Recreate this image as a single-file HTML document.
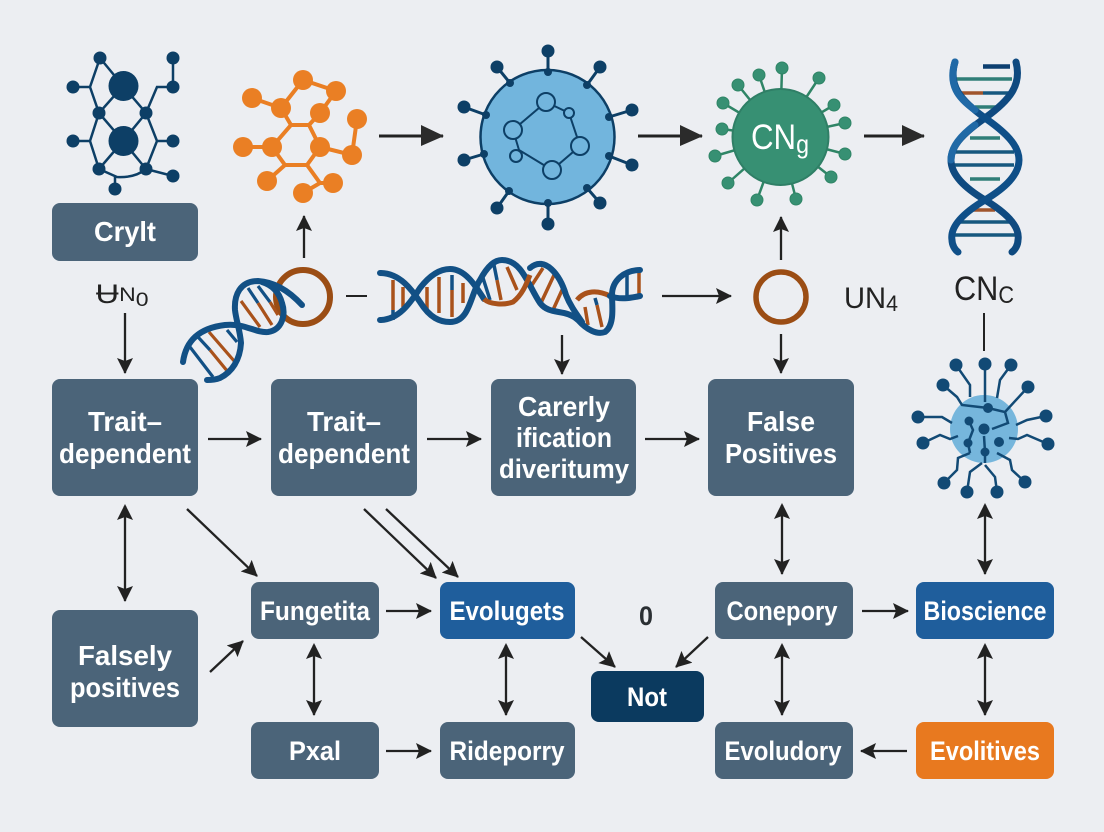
<!DOCTYPE html>
<html><head><meta charset="utf-8"><style>
html,body{margin:0;padding:0;background:#eceef2}
svg{display:block}
text{font-family:"Liberation Sans","DejaVu Sans",sans-serif}
.w{fill:#fff;font-weight:700;font-size:28px;text-anchor:middle}
.w2{font-size:26.5px}
.k{fill:#222;font-size:27px;text-anchor:middle}
.b{fill:#4b6479}
.a{stroke:#222;stroke-width:2.300;fill:none;marker-end:url(#m)}
.d{stroke:#222;stroke-width:2.300;fill:none;marker-end:url(#m);marker-start:url(#s)}
.a2{stroke:#222;stroke-width:3;fill:none;marker-end:url(#l)}
.n1{stroke:#0d3f66;stroke-width:2.500;fill:none}
.o{stroke:#ea7f24;stroke-width:4;fill:none}
.g{stroke:#2f8566;stroke-width:2.500;fill:none}
.h{stroke:#125085;stroke-width:6;fill:none;stroke-linecap:round}
.r{stroke:#a9521b;stroke-width:3;fill:none}
.t{stroke:#125085;stroke-width:3;fill:none}
</style></head><body>
<svg width="1104" height="832" viewBox="0 0 1104 832" xmlns="http://www.w3.org/2000/svg">
<defs>
<marker id="m" markerUnits="userSpaceOnUse" markerWidth="17" markerHeight="16" refX="15" refY="8" orient="auto"><path d="M0 0L16 8L0 16L3 8Z" fill="#222"/></marker>
<marker id="s" markerUnits="userSpaceOnUse" markerWidth="17" markerHeight="16" refX="2" refY="8" orient="auto"><path d="M16 0L0 8L16 16L13 8Z" fill="#222"/></marker>
<marker id="l" markerUnits="userSpaceOnUse" markerWidth="24" markerHeight="22" refX="22" refY="11" orient="auto"><path d="M0 0L23 11L0 21Z" fill="#2b2b2b"/></marker>
</defs>
<rect width="1104" height="832" fill="#eceef2"/>

<!-- blue network -->
<g class="n1">
<path d="M100 58L90 87L99 113L90 141L99 169L117 177Q135 178 146 169L173 176"/>
<path d="M100 58L123 86L99 113L123 141L99 169M123 86L146 113L123 141L146 169M146 113L157 87H173V58M146 113L157 141L146 169M73 87H90M73 141H90M157 141H173M115 177V189"/>
</g>
<g fill="#0d3f66">
<circle cx="123.500" cy="86" r="15"/><circle cx="123.500" cy="141" r="15"/>
<circle cx="100" cy="58" r="6.500"/><circle cx="173" cy="58" r="6.500"/><circle cx="73" cy="87" r="6.500"/><circle cx="173" cy="87" r="6.500"/><circle cx="99" cy="113" r="6.500"/><circle cx="146" cy="113" r="6.500"/><circle cx="73" cy="141" r="6.500"/><circle cx="173" cy="141" r="6.500"/><circle cx="99" cy="169" r="6.500"/><circle cx="146" cy="169" r="6.500"/><circle cx="173" cy="176" r="6.500"/><circle cx="115" cy="189" r="6.500"/>
</g>

<!-- orange network -->
<g class="o">
<path d="M291 125H309L320 147L307 165H285L272 147Z"/>
<path d="M252 98L281 108L291 125M281 108L303 80L336 91L320 113L309 125M243 147H272M320 147L352 155L357 119M285 165L267 181M307 165L320 183L333 183M320 183L303 193"/>
</g>
<g fill="#ea7f24">
<circle cx="303" cy="80" r="10"/><circle cx="336" cy="91" r="10"/><circle cx="252" cy="98" r="10"/><circle cx="281" cy="108" r="10"/><circle cx="320" cy="113" r="10"/><circle cx="357" cy="119" r="10"/><circle cx="243" cy="147" r="10"/><circle cx="272" cy="147" r="10"/><circle cx="320" cy="147" r="10"/><circle cx="352" cy="155" r="10"/><circle cx="267" cy="181" r="10"/><circle cx="333" cy="183" r="10"/><circle cx="303" cy="193" r="10"/>
</g>

<!-- virus -->
<g stroke="#0d3f66" stroke-width="3">
<path d="M548 51V72M497 67L510 83M600 67L587 85M464 107L486 115M632 110L609 117M464 160L484 154M632 165L609 156M497 208L509 191M600 203L587 188M548 224V203"/>
<circle cx="547.500" cy="137" r="67" fill="#72b5dd" stroke-width="2.500"/>
</g>
<g fill="#0d3f66">
<circle cx="548" cy="51" r="6.500"/><circle cx="497" cy="67" r="6.500"/><circle cx="600" cy="67" r="6.500"/><circle cx="464" cy="107" r="6.500"/><circle cx="632" cy="110" r="6.500"/><circle cx="464" cy="160" r="6.500"/><circle cx="632" cy="165" r="6.500"/><circle cx="497" cy="208" r="6.500"/><circle cx="600" cy="203" r="6.500"/><circle cx="548" cy="224" r="6.500"/>
<circle cx="548" cy="72" r="4"/><circle cx="510" cy="83" r="4"/><circle cx="587" cy="85" r="4"/><circle cx="486" cy="115" r="4"/><circle cx="609" cy="117" r="4"/><circle cx="484" cy="154" r="4"/><circle cx="609" cy="156" r="4"/><circle cx="509" cy="191" r="4"/><circle cx="587" cy="188" r="4"/><circle cx="548" cy="203" r="4"/>
</g>
<g stroke="#0d3f66" stroke-width="2" fill="#72b5dd">
<path d="M546 102L513 130L519 150L552 170L580 146L569 113Z" fill="none"/>
<circle cx="546" cy="102" r="9"/><circle cx="513" cy="130" r="9"/><circle cx="580" cy="146" r="9"/><circle cx="552" cy="170" r="9"/><circle cx="569" cy="113" r="5"/><circle cx="516" cy="156" r="6"/>
</g>

<!-- green virus -->
<g class="g">
<path d="M780 137L782 68M780 137L759 75M780 137L738 85M780 137L819 78M780 137L723 103M780 137L834 105M780 137L722 129M780 137L845 123M780 137L715 156M780 137L845 154M780 137L728 183M780 137L831 177M780 137L757 200M780 137L796 199"/>
</g>
<circle cx="780.500" cy="137" r="48" fill="#379073" stroke="#2f7f66" stroke-width="2"/>
<g fill="#379073" stroke="#2f8566" stroke-width="1">
<circle cx="782" cy="68" r="6"/><circle cx="759" cy="75" r="6"/><circle cx="738" cy="85" r="6"/><circle cx="819" cy="78" r="6"/><circle cx="723" cy="103" r="6"/><circle cx="834" cy="105" r="6"/><circle cx="722" cy="129" r="6"/><circle cx="845" cy="123" r="6"/><circle cx="715" cy="156" r="6"/><circle cx="845" cy="154" r="6"/><circle cx="728" cy="183" r="6"/><circle cx="831" cy="177" r="6"/><circle cx="757" cy="200" r="6"/><circle cx="796" cy="199" r="6"/>
</g>
<text x="780" y="149" fill="#fff" font-size="35" text-anchor="middle" textLength="58" lengthAdjust="spacingAndGlyphs">CN<tspan font-size="26" dy="4">g</tspan></text>

<!-- right DNA -->
<g stroke-width="3.500" fill="none">
<path d="M956 79H1012" stroke="#2f7e78"/>
<path d="M983 93H1012M954 152H1014M954 165H1014M960 222H1010M955 235H1016" stroke="#16587f"/>
<path d="M975 107H1000M970 138H1000M970 179H1000" stroke="#2f7e78"/>
<path d="M960 93H983M973 210H995" stroke="#a0552c"/>
<path d="M983 66.500H1010" stroke="#0d3f70" stroke-width="4.500"/>
</g>
<path d="M1016 62C1022 85 1010 100 985 118C965 132 951 145 951 160C951 175 965 188 985 200C1010 215 1020 228 1018 240C1018 245 1015 250 1012 252" stroke="#0f4a80" stroke-width="7" fill="none" stroke-linecap="round"/>
<path d="M955 62C948 85 960 100 985 118C1005 132 1019 145 1019 160C1019 175 1005 188 985 200C960 215 950 228 952 240C952 245 955 250 958 252" stroke="#0f4f88" stroke-width="7" fill="none" stroke-linecap="round"/>
<path d="M955 62C948 85 958 98 975 110M951 160C951 148 960 136 975 125" stroke="#2069a6" stroke-width="7" fill="none" stroke-linecap="round"/>

<!-- small DNA left + ring -->
<circle cx="303" cy="297" r="27" fill="none" stroke="#9b4d14" stroke-width="6"/>
<g stroke-width="3.200" fill="none" stroke="#a9521b">
<path d="M210 350L228 372M209 332L235 362M241 301L260 327M258 303L272 325M270 302L278 315"/>
</g>
<g stroke-width="3.200" fill="none" stroke="#125085">
<path d="M190 347L213 377M198 337L210 350M227 330L237 342M248 288L258 303M258 286L270 302"/>
</g>
<path class="h" d="M183 362C186 340 200 328 225 325C245 323 255 333 268 332C282 330 286 315 282 303C279 292 272 285 262 282"/>
<path class="h" d="M302 305C290 292 275 282 258 281C240 281 234 295 235 310C236 320 240 330 241 343C240 360 232 372 220 378C215 380 210 380 207 380"/>

<!-- central DNA -->
<g stroke-width="3.500" fill="none" stroke="#a9521b">
<path d="M393 280V310M403 287V307M427 287V313M439 277V313M452 290V317M463 283V303M497 280L501 300M507 267L517 290M543 268L530 288M555 273L540 305M563 288L553 310M585 307L588 325M597 305L602 327M639 272V297"/>
</g>
<g stroke-width="3.500" fill="none" stroke="#125085">
<path d="M393 310V320M452 275V290M483 278L490 300M494 265L497 280M595 298L597 305M627 275V297"/>
</g>
<path class="h" d="M380 273C400 273 412 290 420 302C430 318 440 322 450 322C470 322 470 295 480 280C488 265 495 260 502 260C522 260 528 285 540 303C550 316 565 308 578 320C587 330 597 335 605 332C615 325 612 305 612 295C612 280 625 270 640 270"/>
<path class="h" d="M380 320C400 320 412 300 420 288C430 275 440 269 450 269C465 269 475 285 484 299"/>
<path d="M484 299C490 305 505 305 513 302C522 295 526 285 530 275" stroke="#a9521b" stroke-width="5" fill="none"/>
<path class="h" d="M530 268C545 255 560 275 566 295C570 305 575 312 582 322"/>
<path d="M577 300C585 290 598 290 610 296" stroke="#a9521b" stroke-width="5" fill="none"/>
<path class="h" d="M610 296C620 300 630 298 640 296"/>

<!-- ring right -->
<circle cx="781" cy="297" r="25" fill="none" stroke="#9b4d14" stroke-width="5.500"/>

<!-- neural virus -->
<circle cx="984" cy="429" r="34" fill="#76b6dc"/>
<g stroke="#124a75" stroke-width="2.500" fill="none">
<path d="M943 385L957 397L962 405L988 408L1005 412L1008 423L992 429M1028 387L1005 412M918 417H942L952 423M1046 416L1027 420L1016 425M923 443L940 435L950 439L958 436M1048 444L1027 435L1018 439L1009 438M944 483L957 470L958 458L970 453M1025 482L1012 470L1010 460L997 453M967 492L970 472L982 463M997 492L995 477L985 465M969 421L973 430L968 443L970 453M984 436L985 452V463M985 365V402M970 397V385L956 365M997 398L1000 380L1011 365"/>
</g>
<g fill="#124a75">
<circle cx="943" cy="385" r="6.500"/><circle cx="1028" cy="387" r="6.500"/><circle cx="918" cy="417" r="6.500"/><circle cx="1046" cy="416" r="6.500"/><circle cx="923" cy="443" r="6.500"/><circle cx="1048" cy="444" r="6.500"/><circle cx="944" cy="483" r="6.500"/><circle cx="1025" cy="482" r="6.500"/><circle cx="967" cy="492" r="6.500"/><circle cx="997" cy="492" r="6.500"/><circle cx="956" cy="365" r="6.500"/><circle cx="985" cy="364" r="6.500"/><circle cx="1011" cy="365" r="6.500"/>
<circle cx="988" cy="408" r="5"/><circle cx="969" cy="421" r="4.500"/><circle cx="984" cy="429" r="5.500"/><circle cx="968" cy="443" r="4.500"/><circle cx="999" cy="442" r="5"/><circle cx="985" cy="452" r="4.500"/>
</g>

<!-- boxes -->
<rect class="b" x="52" y="203" width="146" height="58" rx="8"/>
<rect class="b" x="52" y="379" width="146" height="117" rx="8"/>
<rect class="b" x="271" y="379" width="146" height="117" rx="8"/>
<rect class="b" x="491" y="379" width="145" height="117" rx="8"/>
<rect class="b" x="708" y="379" width="146" height="117" rx="8"/>
<rect class="b" x="52" y="610" width="146" height="117" rx="8"/>
<rect class="b" x="251" y="582" width="128" height="57" rx="8"/>
<rect x="440" y="582" width="135" height="57" rx="8" fill="#1f5e9c"/>
<rect class="b" x="715" y="582" width="138" height="57" rx="8"/>
<rect x="916" y="582" width="138" height="57" rx="8" fill="#1f5e9c"/>
<rect class="b" x="251" y="722" width="128" height="57" rx="8"/>
<rect class="b" x="440" y="722" width="135" height="57" rx="8"/>
<rect class="b" x="715" y="722" width="138" height="57" rx="8"/>
<rect x="916" y="722" width="138" height="57" rx="8" fill="#e8791f"/>
<rect x="591" y="671" width="113" height="51" rx="8" fill="#0b3a5f"/>

<g class="w">
<text x="125" y="241" textLength="62" lengthAdjust="spacingAndGlyphs">Crylt</text>
<text x="125" y="431" textLength="74" lengthAdjust="spacingAndGlyphs">Trait–</text>
<text x="125" y="463" textLength="132" lengthAdjust="spacingAndGlyphs">dependent</text>
<text x="344" y="431" textLength="74" lengthAdjust="spacingAndGlyphs">Trait–</text>
<text x="344" y="463" textLength="132" lengthAdjust="spacingAndGlyphs">dependent</text>
<text x="564" y="416" textLength="92" lengthAdjust="spacingAndGlyphs">Carerly</text>
<text x="564" y="447" textLength="96" lengthAdjust="spacingAndGlyphs">ification</text>
<text x="564" y="478" textLength="130" lengthAdjust="spacingAndGlyphs" class="w2">diveritumy</text>
<text x="781" y="431" textLength="68" lengthAdjust="spacingAndGlyphs">False</text>
<text x="781" y="463" textLength="112" lengthAdjust="spacingAndGlyphs">Positives</text>
<text x="125" y="665" textLength="94" lengthAdjust="spacingAndGlyphs">Falsely</text>
<text x="125" y="697" textLength="110" lengthAdjust="spacingAndGlyphs">positives</text>
<text x="315" y="620" textLength="110" lengthAdjust="spacingAndGlyphs" class="w2">Fungetita</text>
<text x="507" y="620" textLength="115" lengthAdjust="spacingAndGlyphs" class="w2">Evolugets</text>
<text x="782" y="620" textLength="111" lengthAdjust="spacingAndGlyphs" class="w2">Conepory</text>
<text x="985" y="620" textLength="123" lengthAdjust="spacingAndGlyphs" class="w2">Bioscience</text>
<text x="315" y="760" textLength="52" lengthAdjust="spacingAndGlyphs" class="w2">Pxal</text>
<text x="507" y="760" textLength="115" lengthAdjust="spacingAndGlyphs" class="w2">Rideporry</text>
<text x="783" y="760" textLength="117" lengthAdjust="spacingAndGlyphs" class="w2">Evoludory</text>
<text x="985" y="760" textLength="110" lengthAdjust="spacingAndGlyphs" class="w2">Evolitives</text>
<text x="647" y="706" textLength="40" lengthAdjust="spacingAndGlyphs" class="w2">Not</text>
</g>

<text class="k" x="122" y="303" textLength="53" lengthAdjust="spacingAndGlyphs">Ʉ<tspan font-size="19" dy="-2">N</tspan><tspan font-size="19" dy="5">0</tspan></text>
<text class="k" x="871" y="308" textLength="54" lengthAdjust="spacingAndGlyphs" style="font-size:30px">UN<tspan font-size="22" dy="3">4</tspan></text>
<text class="k" x="984" y="300" textLength="60" lengthAdjust="spacingAndGlyphs" style="font-size:34px">CN<tspan font-size="24" dy="3">C</tspan></text>
<text class="k" x="646" y="625" textLength="14" lengthAdjust="spacingAndGlyphs" style="font-weight:700;font-size:27px;fill:#2a2f33">0</text>

<!-- top arrows -->
<path class="a2" d="M379 136H443"/>
<path class="a2" d="M638 136H702"/>
<path class="a2" d="M864 136H924"/>

<!-- connectors -->
<path class="a" d="M304 258V216"/>
<path class="a" d="M125 313V373"/>
<path d="M346 296H367M984 313V351" stroke="#222" stroke-width="2" fill="none"/>
<path class="a" d="M662 296H731"/>
<path class="a" d="M781 260V217"/>
<path class="a" d="M781 334V373"/>
<path class="a" d="M562 335V374"/>
<path class="a" d="M208 439H261"/>
<path class="a" d="M427 439H481"/>
<path class="a" d="M645 439H699"/>
<path class="d" d="M125 506V601"/>
<path class="d" d="M782 505V574"/>
<path class="d" d="M985 505V574"/>
<path class="a" d="M187 509L257 576"/>
<path class="a" d="M364 509L436 578"/>
<path class="a" d="M386 509L458 577"/>
<path class="a" d="M210 672L243 641"/>
<path class="a" d="M386 611H431"/>
<path class="a" d="M862 611H908"/>
<path class="a" d="M581 637L615 667"/>
<path class="a" d="M708 637L676 667"/>
<path class="d" d="M314 645V715"/>
<path class="d" d="M506 645V715"/>
<path class="d" d="M782 645V715"/>
<path class="d" d="M985 645V715"/>
<path class="a" d="M386 751H431"/>
<path class="a" d="M907 751H861"/>
</svg>
</body></html>
